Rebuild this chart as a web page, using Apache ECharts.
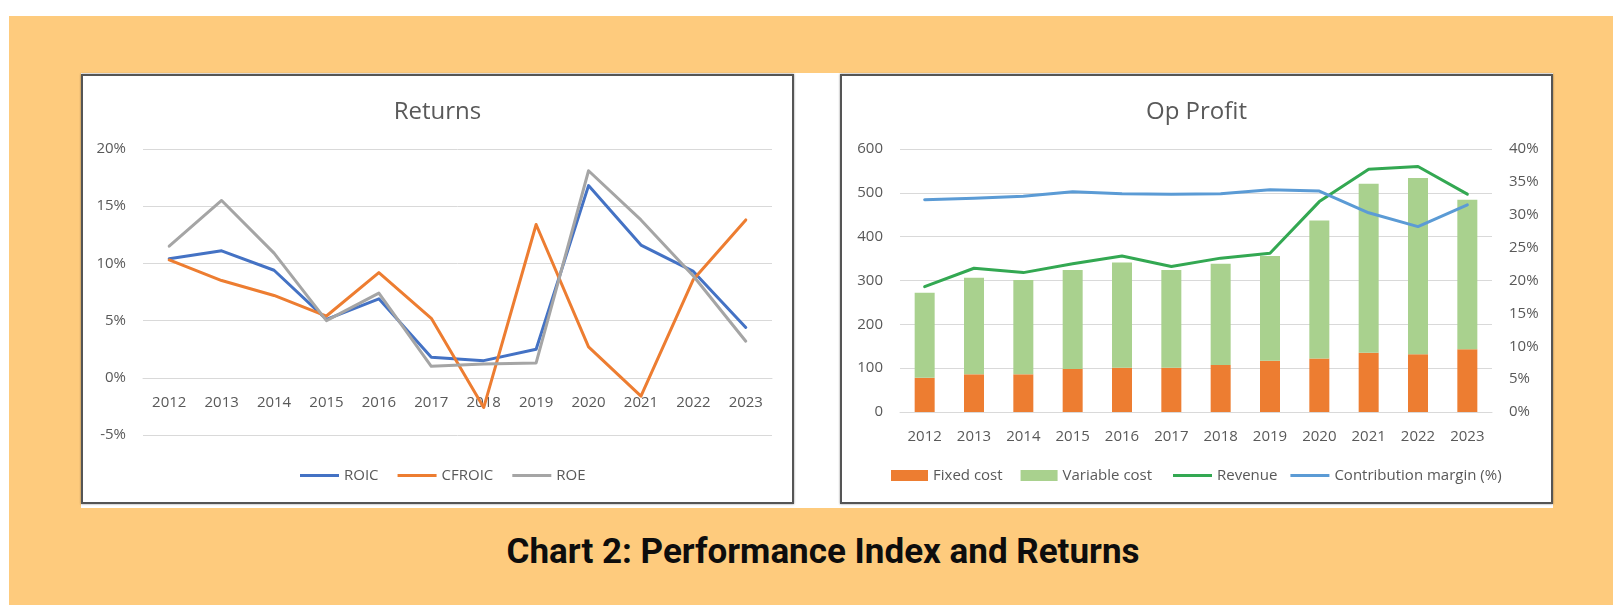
<!DOCTYPE html>
<html>
<head>
<meta charset="utf-8">
<script src="https://cdn.jsdelivr.net/npm/echarts@6/dist/echarts.min.js"></script>
<style>
  html, body { margin: 0; padding: 0; background: #fff; }
  body { width: 1613px; height: 605px; position: relative; overflow: hidden; }
  .bg { position: absolute; left: 9px; top: 16px; right: 0; bottom: 0; background: #fecb7d; }
  .sheet { position: absolute; left: 81px; top: 73px; width: 1472px; height: 435px; background: #fff; }
  .panel {
    position: absolute; top: 74px; width: 713px; height: 430px;
    box-sizing: border-box; border: 2px solid #555; background: #fff;
    box-shadow: 0 0 2px rgba(0, 0, 0, 0.45);
  }
  .chart { position: absolute; left: 0; top: 0; width: 709px; height: 426px; }
  .caption {
    position: absolute; left: 0; width: 1646px; top: 530px; text-align: center;
    font-family: Roboto, sans-serif; font-weight: 700; font-size: 35px; color: #0d0d0d;
    line-height: 44px;
  }
</style>
</head>
<body>
<div class="bg"></div>
<div class="sheet"></div>
<div class="panel" style="left:81px"><div id="returns" class="chart"></div></div>
<div class="panel" style="left:840px"><div id="profit" class="chart"></div></div>
<div class="caption">Chart 2: Performance Index and Returns</div>
<script>
// data
const years = ['2012', '2013', '2014', '2015', '2016', '2017', '2018', '2019', '2020', '2021', '2022', '2023'];

// Returns (%)
const roic = [10.4, 11.1, 9.4, 5.1, 6.9, 1.8, 1.5, 2.5, 16.8, 11.6, 9.3, 4.4];
const cfroic = [10.3, 8.5, 7.2, 5.4, 9.2, 5.2, -2.6, 13.4, 2.7, -1.6, 8.6, 13.8];
const roe = [11.5, 15.5, 10.9, 5.0, 7.4, 1.0, 1.2, 1.3, 18.1, 13.8, 8.9, 3.2];

// Op Profit
const fixedCost = [78, 86, 86, 98, 101, 101, 107, 117, 122, 135, 132, 143];
const variableCost = [194, 220, 215, 226, 240, 223, 231, 239, 315, 386, 402, 341];
const revenue = [286, 328, 318, 338, 356, 332, 351, 362, 480, 554, 560, 497];
const contributionMargin = [32.3, 32.5, 32.8, 33.5, 33.2, 33.1, 33.2, 33.8, 33.6, 30.3, 28.2, 31.5];

const FONT = '"Open Sans", sans-serif';
const TXT = '#595959';
const GRID = '#d9d9d9';

const titleOf = (text) => ({
  text,
  left: 'center',
  top: 19,
  textStyle: { fontFamily: FONT, fontSize: 24, fontWeight: 'normal', color: TXT },
});

// offset < 0 pulls the category axis up into the grid (onto the 0 line)
const catAxis = (margin, offset = 0) => ({
  type: 'category',
  data: years,
  offset,
  axisLine: { show: true, onZero: false, lineStyle: { color: GRID } },
  axisTick: { show: false },
  axisLabel: { color: TXT, fontFamily: FONT, fontSize: 15, margin },
});

const lineSeries = (name, data, color, yAxisIndex = 0) => ({
  name,
  type: 'line',
  data,
  yAxisIndex,
  symbol: 'none',
  z: 5,
  lineStyle: { color, width: 3, join: 'round', cap: 'round' },
  itemStyle: { color },
});

// 左图：Returns
const returnsChart = echarts.init(document.getElementById('returns'));
const returnsGrid = { left: 60, right: 20, top: 73, bottom: 67 };
const returnsMin = -5;
const returnsMax = 20;
// 0% 线距离底部的像素
const zeroOffset = (426 - returnsGrid.top - returnsGrid.bottom) * (0 - returnsMin) / (returnsMax - returnsMin);
returnsChart.setOption({
  animation: false,
  title: titleOf('Returns'),
  legend: {
    left: 212,
    top: 387,
    icon: 'rect',
    itemWidth: 39,
    itemHeight: 3,
    itemGap: 19,
    textStyle: { color: TXT, fontFamily: FONT, fontSize: 15 },
    data: ['ROIC', 'CFROIC', 'ROE'],
  },
  grid: returnsGrid,
  xAxis: catAxis(17, -zeroOffset),
  yAxis: {
    type: 'value',
    min: returnsMin,
    max: returnsMax,
    interval: 5,
    axisLine: { show: false },
    axisTick: { show: false },
    axisLabel: { color: TXT, fontFamily: FONT, fontSize: 15, margin: 17, formatter: '{value}%' },
    splitLine: { lineStyle: { color: GRID, width: 1 } },
  },
  series: [
    lineSeries('ROIC', roic, '#4472c4'),
    lineSeries('CFROIC', cfroic, '#ed7d31'),
    lineSeries('ROE', roe, '#a5a5a5'),
  ],
});

// 右图：Op Profit
const profitChart = echarts.init(document.getElementById('profit'));
profitChart.setOption({
  animation: false,
  title: titleOf('Op Profit'),
  legend: [
    {
      left: 44,
      top: 387,
      icon: 'rect',
      itemWidth: 37,
      itemHeight: 11,
      itemGap: 18,
      textStyle: { color: TXT, fontFamily: FONT, fontSize: 15 },
      data: ['Fixed cost', 'Variable cost'],
    },
    {
      left: 326,
      top: 387,
      icon: 'rect',
      itemWidth: 39,
      itemHeight: 3,
      itemGap: 13,
      textStyle: { color: TXT, fontFamily: FONT, fontSize: 15 },
      data: ['Revenue', 'Contribution margin (%)'],
    },
  ],
  grid: { left: 58, right: 59, top: 73, bottom: 90 },
  xAxis: catAxis(17),
  yAxis: [
    {
      type: 'value',
      min: 0,
      max: 600,
      interval: 100,
      axisLine: { show: false },
      axisTick: { show: false },
      axisLabel: { color: TXT, fontFamily: FONT, fontSize: 15, margin: 17 },
      splitLine: { lineStyle: { color: GRID, width: 1 } },
    },
    {
      type: 'value',
      min: 0,
      max: 40,
      interval: 5,
      position: 'right',
      axisLine: { show: false },
      axisTick: { show: false },
      axisLabel: { color: TXT, fontFamily: FONT, fontSize: 15, margin: 17, align: 'left', formatter: '{value}%' },
      splitLine: { show: false },
    },
  ],
  series: [
    {
      name: 'Fixed cost',
      type: 'bar',
      stack: 'cost',
      barWidth: 20,
      data: fixedCost,
      itemStyle: { color: '#ed7d31' },
    },
    {
      name: 'Variable cost',
      type: 'bar',
      stack: 'cost',
      barWidth: 20,
      data: variableCost,
      itemStyle: { color: '#a9d18e' },
    },
    lineSeries('Revenue', revenue, '#33a852'),
    lineSeries('Contribution margin (%)', contributionMargin, '#5b9bd5', 1),
  ],
});
</script>
</body>
</html>
